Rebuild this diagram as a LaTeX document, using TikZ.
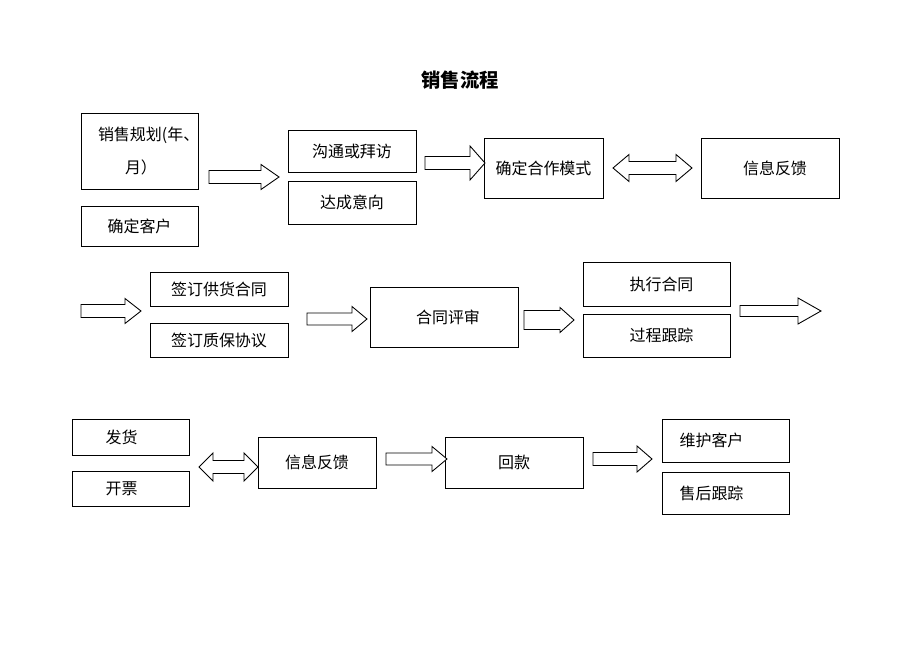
\documentclass[tikz,border=0pt]{standalone}
\usepackage{fontspec}
\setmainfont{Noto Sans CJK SC}
\usepackage{tikz}
\usetikzlibrary{calc}

\newcommand{\blockarrow}[5]{% tail, tip, shaft half, head half, head length
\draw[arrowbox] ($(#1)+(0,#3)$) -- ($(#2)+(-#5,#3)$) -- ($(#2)+(-#5,#4)$) -- (#2)
  -- ($(#2)+(-#5,-#4)$) -- ($(#2)+(-#5,-#3)$) -- ($(#1)+(0,-#3)$) -- cycle;}
\newcommand{\blockdarrow}[5]{% left tip, right tip, shaft half, head half, head length
\draw[arrowbox] (#1) -- ($(#1)+(#5,#4)$) -- ($(#1)+(#5,#3)$) -- ($(#2)+(-#5,#3)$)
  -- ($(#2)+(-#5,#4)$) -- (#2) -- ($(#2)+(-#5,-#4)$) -- ($(#2)+(-#5,-#3)$)
  -- ($(#1)+(#5,-#3)$) -- ($(#1)+(#5,-#4)$) -- cycle;}

\begin{document}
\begin{tikzpicture}[x=0.02cm, y=-0.02cm,
  box/.style={shape=rectangle, draw=black, line width=0.5pt, inner sep=0pt, font=\fontsize{9.1}{11}\selectfont},
  arrowbox/.style={draw=black, line width=0.5pt, fill=white, line join=miter}]
\useasboundingbox (0,0) rectangle (920,651);

\node[font=\bfseries\fontsize{11}{13}\selectfont](title) at (460,80) {销售流程};

% row 1
\node[box, minimum height=1.52cm, text width=2.34cm, align=left](plan) at (139.5,151) {\hspace*{0.34cm}销售规划(年、\\[7.5pt]\hspace*{0.88cm}月）};
\node[box, minimum width=2.34cm, minimum height=0.80cm](client) at (139.5,226) {确定客户};
\node[box, minimum width=2.56cm, minimum height=0.84cm](visit) at (352,151) {沟通或拜访};
\node[box, minimum width=2.56cm, minimum height=0.86cm](intent) at (352,202.5) {达成意向};
\node[box, minimum width=2.38cm, minimum height=1.20cm](mode) at (543.5,168) {确定合作模式};
\node[box, minimum width=2.76cm, minimum height=1.20cm](feedA) at (770,168) {\hspace*{0.2cm}信息反馈};

% row 2
\node[box, minimum width=2.76cm, minimum height=0.68cm](supply) at (219,289) {签订供货合同};
\node[box, minimum width=2.76cm, minimum height=0.68cm](warranty) at (219,340) {签订质保协议};
\node[box, minimum width=2.96cm, minimum height=1.20cm](review) at (444,317) {\hspace*{0.16cm}合同评审};
\node[box, minimum width=2.94cm, minimum height=0.88cm](execute) at (656.5,284) {\hspace*{0.2cm}执行合同};
\node[box, minimum width=2.94cm, minimum height=0.86cm](track) at (656.5,335.5) {\hspace*{0.2cm}过程跟踪};

% row 3
\node[box, minimum width=2.34cm, minimum height=0.72cm](ship) at (130.5,437) {\hspace*{-0.36cm}发货};
\node[box, minimum width=2.34cm, minimum height=0.70cm](invoice) at (130.5,488.5) {\hspace*{-0.36cm}开票};
\node[box, minimum width=2.36cm, minimum height=1.02cm](feedB) at (317,462.5) {信息反馈};
\node[box, minimum width=2.76cm, minimum height=1.02cm](payment) at (514,462.5) {回款};
\node[box, minimum width=2.54cm, minimum height=0.86cm](maintain) at (725.5,440.5) {\hspace*{-0.56cm}维护客户};
\node[box, minimum width=2.54cm, minimum height=0.84cm](aftersale) at (725.5,493) {\hspace*{-0.56cm}售后跟踪};

% arrow ends
\coordinate (a1s) at (209,177); \coordinate (a1e) at (279,177);
\coordinate (a2s) at (425,163); \coordinate (a2e) at (485,163);
\coordinate (d1s) at (613,168); \coordinate (d1e) at (692,168);
\coordinate (a3s) at (81,311);  \coordinate (a3e) at (141,311);
\coordinate (a4s) at (307,319); \coordinate (a4e) at (367,319);
\coordinate (a5s) at (524,320); \coordinate (a5e) at (574,320);
\coordinate (a6s) at (740,311); \coordinate (a6e) at (821,311);
\coordinate (d2s) at (199,467); \coordinate (d2e) at (258,467);
\coordinate (a7s) at (386,459); \coordinate (a7e) at (447,459);
\coordinate (a8s) at (593,459); \coordinate (a8e) at (652,459);

\blockarrow{a1s}{a1e}{6.5}{12.5}{18}
\blockarrow{a2s}{a2e}{6.5}{17}{15}
\blockdarrow{d1s}{d1e}{6.5}{13.5}{16}
\blockarrow{a3s}{a3e}{6.5}{12.5}{16}
\blockarrow{a4s}{a4e}{6}{12.5}{15}
\blockarrow{a5s}{a5e}{9.5}{12.5}{14}
\blockarrow{a6s}{a6e}{5.5}{13}{23}
\blockdarrow{d2s}{d2e}{6.5}{14}{14}
\blockarrow{a7s}{a7e}{6}{12.5}{15}
\blockarrow{a8s}{a8e}{6.5}{13}{15}
\end{tikzpicture}
\end{document}
